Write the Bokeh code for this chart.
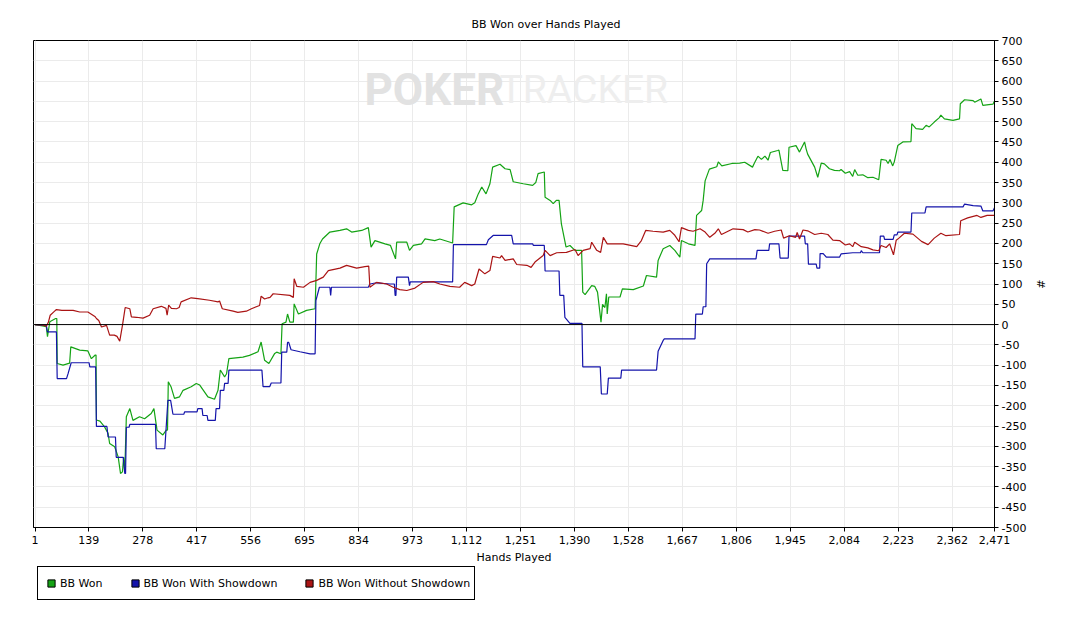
from bokeh.plotting import figure
from bokeh.layouts import column
from bokeh.models import (Range1d, FixedTicker, NumeralTickFormatter, Span,
                          Label, Legend, LegendItem)
from bokeh.embed import file_html
from bokeh.resources import INLINE

# ---------------- data ----------------
title_text = "BB Won over Hands Played"
x_label = "Hands Played"
y_label = "#"
x_ticks = [1, 139, 278, 417, 556, 695, 834, 973, 1112, 1251, 1390, 1528, 1667,
           1806, 1945, 2084, 2223, 2362, 2471]
y_ticks = list(range(-500, 701, 50))
series_names = ["BB Won", "BB Won With Showdown", "BB Won Without Showdown"]
series_colors = ["#14a314", "#1414aa", "#aa1414"]

won_hands = [1, 20, 30, 33, 39, 54, 57, 58, 73, 90, 93, 116, 137, 146, 156, 158, 159, 168, 180,
             189, 193, 206, 215, 221, 226, 229, 232, 236, 245, 253, 270, 283, 300, 307, 315, 330,
             339, 342, 344, 351, 360, 373, 382, 403, 416, 425, 446, 463, 472, 478, 489, 494, 500,
             536, 553, 575, 583, 592, 603, 618, 623, 634, 637, 647, 651, 657, 666, 668, 679, 700,
             722, 726, 734, 741, 760, 786, 803, 816, 842, 859, 866, 876, 902, 916, 929, 932, 958,
             965, 975, 996, 1005, 1030, 1043, 1076, 1080, 1103, 1125, 1133, 1142, 1151, 1162,
             1172, 1179, 1198, 1211, 1224, 1232, 1258, 1282, 1290, 1296, 1312, 1314, 1327, 1335,
             1343, 1350, 1356, 1368, 1378, 1391, 1408, 1411, 1417, 1434, 1442, 1449, 1458, 1462,
             1468, 1472, 1474, 1478, 1507, 1513, 1541, 1567, 1575, 1601, 1605, 1618, 1635, 1648,
             1661, 1665, 1683, 1700, 1704, 1717, 1721, 1726, 1737, 1756, 1760, 1769, 1795, 1815,
             1828, 1848, 1853, 1862, 1871, 1880, 1888, 1894, 1913, 1916, 1926, 1939, 1942, 1960,
             1969, 1982, 1986, 1990, 2008, 2016, 2025, 2033, 2046, 2059, 2072, 2076, 2087, 2098,
             2106, 2111, 2119, 2132, 2145, 2158, 2173, 2179, 2192, 2197, 2202, 2209, 2213, 2222,
             2235, 2256, 2258, 2269, 2286, 2295, 2303, 2316, 2329, 2333, 2342, 2364, 2381, 2383,
             2394, 2416, 2420, 2436, 2441, 2467, 2471]
won_values = [0, -3, -5, -30, 7, 15, 15, -96, -100, -95, -55, -63, -65, -84, -75, -75, -235, -238,
              -252, -268, -293, -301, -326, -367, -363, -327, -363, -227, -207, -236, -227, -232,
              -219, -207, -260, -272, -260, -260, -141, -153, -182, -178, -162, -153, -145, -149,
              -178, -184, -162, -112, -129, -121, -84, -80, -76, -67, -43, -88, -96, -71, -68, -72,
              2, 6, 26, 6, 6, 51, 26, 35, 39, 174, 199, 211, 228, 232, 236, 228, 232, 239, 191, 207,
              199, 195, 162, 203, 203, 183, 195, 199, 211, 207, 211, 201, 290, 300, 295, 300, 322,
              339, 322, 347, 388, 395, 384, 382, 352, 347, 343, 350, 372, 376, 314, 306, 298, 306,
              306, 248, 191, 195, 183, 183, 80, 74, 96, 94, 80, 6, 50, 42, 76, 26, 68, 68, 88, 86,
              95, 121, 117, 158, 187, 195, 183, 166, 207, 199, 195, 269, 281, 306, 354, 383, 389,
              401, 391, 397, 398, 400, 388, 398, 415, 407, 415, 405, 424, 429, 430, 380, 379, 437,
              441, 425, 450, 433, 420, 388, 363, 398, 396, 384, 380, 379, 382, 373, 377, 365, 382,
              368, 369, 362, 363, 357, 407, 405, 397, 407, 391, 401, 441, 450, 451, 495, 483, 481,
              491, 487, 499, 510, 516, 507, 503, 507, 544, 554, 552, 548, 556, 540, 543, 551]

sd_hands = [1, 30, 33, 56, 58, 82, 86, 94, 140, 142, 157, 159, 186, 189, 208, 210, 228, 232, 234,
            236, 243, 245, 311, 313, 335, 343, 350, 356, 384, 386, 418, 420, 431, 433, 444, 446,
            465, 467, 476, 478, 487, 489, 498, 500, 585, 588, 605, 609, 634, 636, 649, 651, 654,
            660, 683, 709, 722, 724, 733, 760, 762, 764, 859, 863, 880, 915, 926, 928, 930, 932,
            962, 965, 967, 1076, 1078, 1163, 1168, 1181, 1228, 1232, 1282, 1284, 1312, 1314,
            1350, 1352, 1362, 1365, 1378, 1409, 1411, 1456, 1459, 1474, 1477, 1509, 1511, 1601,
            1605, 1618, 1621, 1700, 1702, 1719, 1721, 1728, 1730, 1738, 1857, 1860, 1890, 1892,
            1916, 1919, 1940, 1942, 1982, 1984, 1990, 1992, 2012, 2014, 2021, 2022, 2030, 2038,
            2072, 2076, 2106, 2126, 2128, 2132, 2175, 2177, 2186, 2188, 2210, 2213, 2220, 2222,
            2256, 2258, 2292, 2295, 2390, 2394, 2416, 2436, 2441, 2467, 2471]
sd_values = [0, -2, -18, -18, -133, -133, -121, -94, -94, -104, -104, -251, -251, -277, -277,
             -327, -327, -367, -367, -253, -253, -246, -246, -306, -306, -187, -187, -221, -221,
             -215, -215, -207, -207, -224, -224, -236, -236, -207, -207, -162, -162, -145, -145,
             -112, -112, -153, -153, -144, -144, -68, -68, -44, -44, -62, -67, -72, -72, 59, 92,
             92, 72, 92, 92, 100, 103, 100, 100, 72, 72, 117, 117, 96, 105, 105, 197, 197, 209,
             220, 220, 199, 199, 195, 195, 132, 132, 72, 72, 18, 3, 3, -104, -104, -171, -171,
             -132, -132, -112, -112, -66, -39, -35, -35, 26, 26, 44, 44, 150, 162, 162, 183, 183,
             199, 199, 164, 164, 218, 218, 199, 199, 149, 149, 139, 139, 175, 175, 166, 166, 174,
             177, 177, 182, 177, 177, 218, 218, 210, 210, 221, 221, 228, 228, 275, 275, 290, 290,
             297, 293, 292, 280, 280, 288]

nsd_hands = [1, 20, 30, 35, 40, 50, 56, 70, 99, 116, 137, 155, 159, 165, 172, 185, 193, 205, 212,
             219, 226, 233, 245, 249, 262, 279, 296, 305, 326, 338, 341, 345, 352, 365, 372, 377,
             403, 420, 450, 472, 476, 483, 511, 523, 545, 558, 579, 583, 592, 601, 606, 614, 657,
             666, 668, 675, 692, 709, 726, 743, 756, 786, 803, 829, 850, 860, 863, 880, 906, 923,
             940, 958, 979, 1000, 1026, 1043, 1069, 1094, 1107, 1125, 1133, 1144, 1159, 1172,
             1179, 1198, 1202, 1211, 1232, 1241, 1267, 1278, 1288, 1309, 1314, 1327, 1344, 1369,
             1391, 1399, 1412, 1430, 1434, 1447, 1457, 1464, 1474, 1515, 1550, 1562, 1573, 1592,
             1618, 1635, 1648, 1659, 1665, 1683, 1695, 1713, 1726, 1738, 1751, 1760, 1768, 1798,
             1824, 1836, 1854, 1866, 1888, 1905, 1922, 1928, 1943, 1959, 1963, 1969, 1978, 1990,
             2008, 2025, 2042, 2055, 2072, 2087, 2098, 2106, 2111, 2128, 2145, 2158, 2173, 2179,
             2192, 2201, 2211, 2218, 2225, 2239, 2261, 2283, 2300, 2316, 2333, 2346, 2381, 2384,
             2402, 2426, 2436, 2452, 2471]
nsd_values = [0, -1, -4, 5, 23, 32, 37, 35, 35, 31, 31, 20, 15, 10, -6, -2, -26, -26, -29, -41, -2,
              42, 39, 19, 18, 16, 23, 39, 45, 40, 23, 48, 40, 39, 42, 56, 66, 64, 60, 56, 58, 39,
              33, 30, 33, 39, 47, 70, 63, 66, 67, 76, 72, 67, 113, 94, 92, 104, 109, 117, 133, 139,
              146, 139, 143, 144, 92, 104, 100, 92, 86, 84, 90, 104, 106, 100, 94, 92, 104, 96, 100,
              137, 125, 133, 168, 164, 170, 158, 162, 148, 146, 141, 154, 170, 183, 170, 177, 178,
              185, 170, 183, 187, 203, 183, 178, 215, 199, 199, 192, 207, 232, 230, 228, 232, 220,
              204, 239, 232, 230, 236, 228, 215, 225, 236, 222, 236, 234, 228, 234, 233, 225, 230,
              233, 213, 219, 215, 227, 211, 233, 231, 222, 225, 222, 208, 207, 196, 199, 192, 203,
              192, 189, 184, 182, 195, 190, 199, 172, 208, 213, 225, 223, 205, 197, 213, 225, 219,
              222, 256, 263, 269, 264, 269, 269]

# ---------------- main figure ----------------
FONT = "DejaVu Sans"
FS = "11px"

p = figure(width=1062, height=566, output_backend="svg", toolbar_location=None,
           x_range=Range1d(-3, 2471), y_range=Range1d(-500, 700),
           x_axis_location="below", y_axis_location="right",
           min_border_left=33, min_border_right=68, min_border_top=40, min_border_bottom=39,
           background_fill_color="white", border_fill_color="white")
p.outline_line_color = "black"
p.outline_line_width = 1

p.title.text = title_text
p.title.align = "left"
p.title.offset = 438
p.title.text_font = FONT
p.title.text_font_size = FS
p.title.text_font_style = "normal"
p.title.text_color = "black"
p.title.standoff = 20

for ax in (p.xaxis[0], p.yaxis[0]):
    ax.axis_line_color = "black"
    ax.major_tick_line_color = "black"
    ax.major_tick_out = 4
    ax.major_tick_in = 0
    ax.minor_tick_out = 0
    ax.minor_tick_in = 0
    ax.major_label_text_font = FONT
    ax.major_label_text_font_size = FS
    ax.major_label_text_color = "black"
    ax.axis_label_text_font = FONT
    ax.axis_label_text_font_size = FS
    ax.axis_label_text_font_style = "normal"
    ax.axis_label_text_color = "black"

p.xaxis[0].ticker = FixedTicker(ticks=x_ticks)
p.xaxis[0].formatter = NumeralTickFormatter(format="0,0")
p.xaxis[0].axis_label = x_label
p.xaxis[0].major_label_standoff = 4
p.xaxis[0].axis_label_standoff = 4

p.yaxis[0].ticker = FixedTicker(ticks=y_ticks)
p.yaxis[0].formatter = NumeralTickFormatter(format="0")
p.yaxis[0].axis_label = y_label
p.yaxis[0].major_label_standoff = 3
p.yaxis[0].axis_label_standoff = 5

p.xgrid.ticker = FixedTicker(ticks=x_ticks)
p.ygrid.ticker = FixedTicker(ticks=y_ticks)
for g in (p.xgrid[0], p.ygrid[0]):
    g.grid_line_color = "#ebebeb"
    g.grid_line_width = 1

# watermark
p.add_layout(Label(x=331, y=438, x_units="screen", y_units="screen", text="POKER",
                   text_font="Roboto", text_font_style="bold", text_font_size="44px",
                   text_color="#e2e2e2", text_baseline="alphabetic", text_align="left"))
p.add_layout(Label(x=466, y=438, x_units="screen", y_units="screen", text="TRACKER",
                   text_font="Roboto", text_font_style="normal", text_font_size="39px",
                   text_color="#eeeeee", text_baseline="alphabetic", text_align="left"))

p.add_layout(Span(location=0, dimension="width", line_color="black", line_width=1))

p.line(won_hands, won_values, line_color=series_colors[0], line_width=1.2)
p.line(sd_hands, sd_values, line_color=series_colors[1], line_width=1.2)
p.line(nsd_hands, nsd_values, line_color=series_colors[2], line_width=1.2)

# ---------------- legend strip ----------------
lf = figure(width=1062, height=36, output_backend="svg", toolbar_location=None,
            x_range=Range1d(1, 2), y_range=Range1d(1, 2),
            x_axis_location=None, y_axis_location=None,
            min_border_left=0, min_border_right=0, min_border_top=0, min_border_bottom=0,
            background_fill_color="white", border_fill_color="white")
lf.grid.visible = False
lf.outline_line_color = None

items = []
for name, col in zip(series_names, series_colors):
    # swatch renderers sit outside the visible range; only their legend swatch shows
    r = lf.scatter(x=[0], y=[0], marker="square", fill_color=col, line_color="black", size=8)
    items.append(LegendItem(label=name, renderers=[r]))
legend = Legend(items=items, orientation="horizontal", location=(4, 2),
                padding=4, spacing=23, margin=0, glyph_width=18, glyph_height=24,
                label_standoff=0, label_text_font=FONT, label_text_font_size=FS,
                label_text_color="black", border_line_color="black", border_line_width=1,
                border_line_alpha=1, background_fill_color="white", background_fill_alpha=1)
lf.add_layout(legend, "center")

layout = column(p, lf, spacing=0)
open("out.html", "w").write(file_html(layout, INLINE))
